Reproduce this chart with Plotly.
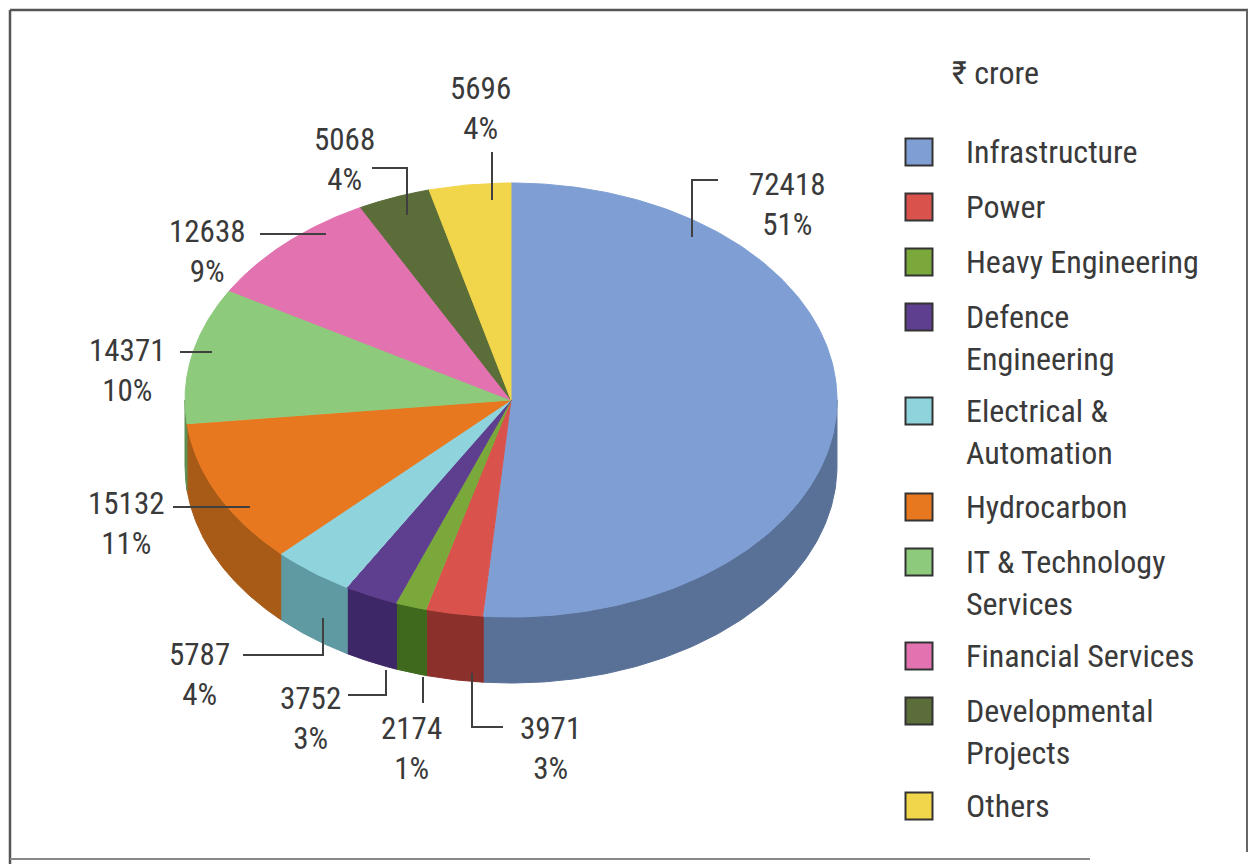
import numpy as np
import plotly.graph_objects as go

# Order book by segment (₹ crore), clockwise from 12 o'clock
sectors = [
    "Infrastructure", "Power", "Heavy Engineering", "Defence\nEngineering",
    "Electrical &\nAutomation", "Hydrocarbon", "IT & Technology\nServices",
    "Financial Services", "Developmental\nProjects", "Others",
]
values = [72418, 3971, 2174, 3752, 5787, 15132, 14371, 12638, 5068, 5696]
shares = ["51%", "3%", "1%", "3%", "4%", "11%", "10%", "9%", "4%", "4%"]
unit_label = "₹ crore"

top_colors = ["#7f9fd4", "#d9534c", "#7aa83a", "#5e3f8f", "#8fd3dc",
              "#e8781f", "#8dca7b", "#e272b0", "#5b6d38", "#f1d54b"]
side_colors = ["#5a7197", "#8c302b", "#3f6a1d", "#3e2766", "#5f9aa2",
               "#a85a17", "#5f8e52", "#a04f7d", "#3d4a25", "#ab9634"]

# pie geometry (pixel space)
CX, CY, RX, RY, DEPTH = 511, 400, 326, 217, 66

# label placement: block centre (x, y) and leader polylines
label_layout = [
    dict(x=787, y=204, leader=[(692, 237), (692, 180), (718, 180)]),
    dict(x=550, y=748, leader=[(472, 673), (472, 727), (503, 727)]),
    dict(x=411, y=748, leader=[(423, 677), (423, 703)]),
    dict(x=310, y=718, leader=[(386, 670), (386, 695), (348, 695)]),
    dict(x=199, y=674, leader=[(323, 618), (323, 655), (243, 655)]),
    dict(x=126, y=523, leader=[(250, 507), (173, 507)]),
    dict(x=127, y=370, leader=[(212, 352), (180, 352)]),
    dict(x=207, y=251, leader=[(326, 234), (260, 234)]),
    dict(x=344, y=159, leader=[(407, 215), (407, 168), (372, 168)]),
    dict(x=480, y=108, leader=[(492, 200), (492, 152)]),
]

FONT = "Liberation Sans Narrow, Arial Narrow, Roboto Condensed, Roboto, sans-serif"
TEXT_COLOR = "#3a3a3a"
LABEL_SIZE = 31
LEGEND_SIZE = 32

total = float(sum(values))
bounds = np.concatenate([[0.0], np.cumsum(values)]) / total * 2 * np.pi


def ell(t, dy=0.0):
    return CX + RX * np.sin(t), CY - RY * np.cos(t) + dy


fig = go.Figure()

# side walls (only the front half of the rim is visible)
for i in range(len(values)):
    a, b = max(bounds[i], np.pi / 2), min(bounds[i + 1], 3 * np.pi / 2)
    if b <= a:
        continue
    t = np.linspace(a, b, 120)
    xt, yt = ell(t)
    xb, yb = ell(t[::-1], DEPTH)
    fig.add_trace(go.Scatter(
        x=np.concatenate([xt, xb, xt[:1]]), y=np.concatenate([yt, yb, yt[:1]]),
        mode="lines", fill="toself", fillcolor=side_colors[i],
        line=dict(color=side_colors[i], width=1), hoverinfo="skip", showlegend=False))

# top faces
for i in range(len(values)):
    t = np.linspace(bounds[i], bounds[i + 1], 200)
    xs, ys = ell(t)
    fig.add_trace(go.Scatter(
        x=np.concatenate([[CX], xs, [CX]]), y=np.concatenate([[CY], ys, [CY]]),
        mode="lines", fill="toself", fillcolor=top_colors[i],
        line=dict(color=top_colors[i], width=1),
        name=sectors[i].replace("\n", " "), hoverinfo="name", showlegend=False))

# value labels with leader lines
for i, lay in enumerate(label_layout):
    pts = lay["leader"]
    fig.add_trace(go.Scatter(
        x=[p[0] for p in pts], y=[p[1] for p in pts], mode="lines",
        line=dict(color="#404040", width=2), hoverinfo="skip", showlegend=False))
    fig.add_annotation(x=lay["x"], y=lay["y"], text=f"{values[i]}<br>{shares[i]}",
                       showarrow=False, xanchor="center", yanchor="middle", align="center",
                       font=dict(family=FONT, size=LABEL_SIZE, color=TEXT_COLOR))

# legend
legend_rows = [152, 207, 262, 317, 411, 507, 562, 656, 711, 806]
fig.add_trace(go.Scatter(
    x=[919] * len(sectors), y=legend_rows, mode="markers",
    marker=dict(symbol="square", size=27, color=top_colors,
                line=dict(color="#333333", width=2)),
    hoverinfo="skip", showlegend=False))
for name, yy in zip(sectors, legend_rows):
    lines = name.split("\n")
    fig.add_annotation(x=964, y=yy + (len(lines) - 1) * 1.3 * LEGEND_SIZE / 2,
                       text="<br>".join(lines), showarrow=False,
                       xanchor="left", yanchor="middle", align="left",
                       font=dict(family=FONT, size=LEGEND_SIZE, color=TEXT_COLOR))
fig.add_annotation(x=950, y=73, text=unit_label, showarrow=False,
                   xanchor="left", yanchor="middle",
                   font=dict(family=FONT, size=LEGEND_SIZE, color=TEXT_COLOR))

# frame
frame = dict(color="#555555", width=2.5)
fig.add_shape(type="line", x0=10, y0=10, x1=1248, y1=10, line=frame)
fig.add_shape(type="line", x0=10, y0=10, x1=10, y1=864, line=frame)
fig.add_shape(type="line", x0=1247, y0=10, x1=1247, y1=852, line=dict(color="#666666", width=2))
fig.add_shape(type="line", x0=10, y0=859, x1=1090, y1=859, line=dict(color="#888888", width=2))

fig.update_layout(
    width=1250, height=864, margin=dict(l=0, r=0, t=0, b=0),
    paper_bgcolor="white", plot_bgcolor="white", showlegend=False,
    xaxis=dict(range=[0, 1250], visible=False, fixedrange=True),
    yaxis=dict(range=[864, 0], visible=False, fixedrange=True),
)

fig.write_html("out.html")
